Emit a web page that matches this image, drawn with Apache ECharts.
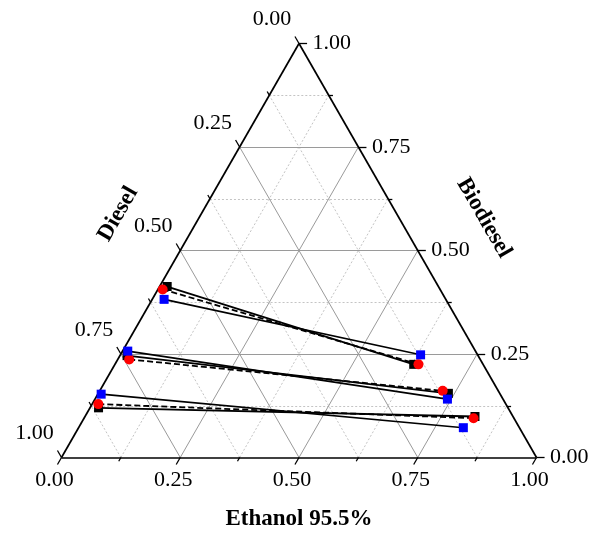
<!DOCTYPE html>
<html>
<head>
<meta charset="utf-8">
<script src="https://cdn.jsdelivr.net/npm/echarts@6/dist/echarts.min.js"></script>
<style>html,body{margin:0;padding:0;background:#fff}#c{width:598px;height:533px}</style>
</head>
<body>
<div id="c"></div>
<script>
// ---- Data (ternary fractions: Ethanol, Biodiesel; Diesel = 1 - E - B) ----
const tieLabels = ['Tie 1 feed-rich', 'Tie 1 ethanol-rich', 'Tie 2 feed-rich', 'Tie 2 ethanol-rich', 'Tie 3 feed-rich', 'Tie 3 ethanol-rich'];
const expEthanol  = [0.016, 0.629, 0.015, 0.737, 0.018, 0.821];
const expBiodiesel = [0.413, 0.225, 0.246, 0.155, 0.120, 0.099];
const redEthanol  = [0.010, 0.639, 0.024, 0.722, 0.013, 0.820];
const redBiodiesel = [0.406, 0.225, 0.237, 0.161, 0.129, 0.095];
const blueEthanol  = [0.025, 0.632, 0.011, 0.742, 0.007, 0.810];
const blueBiodiesel = [0.382, 0.248, 0.257, 0.141, 0.153, 0.072];
const tickValues = [0, 0.25, 0.5, 0.75, 1];
const tickLabels = ['0.00', '0.25', '0.50', '0.75', '1.00'];
const minorValues = [0.125, 0.375, 0.625, 0.875];
const axisTitles = { bottom: 'Ethanol 95.5%', left: 'Diesel', right: 'Biodiesel' };

// ---- ternary -> cartesian ----
function P(E, B) { return [E + B / 2, B]; }
const FONT = '"Liberation Serif","Times New Roman",serif';
const TL = 0.017, TS = 0.009;

function gridFamily(v) {
  return [
    { coords: [P(0, v), P(1 - v, v)] },          // constant Biodiesel
    { coords: [P(v, 0), P(v, 1 - v)] },          // constant Ethanol
    { coords: [P(1 - v, 0), P(0, 1 - v)] }       // constant Diesel
  ];
}
const majorGrid = [], minorGrid = [];
[0.25, 0.5, 0.75].forEach(v => majorGrid.push(...gridFamily(v)));
minorValues.forEach(v => minorGrid.push(...gridFamily(v)));

const ticks = [];
function addTicks(v, t) {
  ticks.push({ coords: [P(v, 0), P(v, -t)] });                 // Ethanol (bottom), down-left
  ticks.push({ coords: [P(1 - v, v), P(1 - v + t, v)] });      // Biodiesel (right), horizontal
  ticks.push({ coords: [P(0, 1 - v), P(-t, 1 - v + t)] });     // Diesel (left), up-left
}
tickValues.forEach(v => addTicks(v, TL));
minorValues.forEach(v => addTicks(v, TS));

const frame = [
  { coords: [P(0, 0), P(1, 0)] },
  { coords: [P(1, 0), P(0, 1)] },
  { coords: [P(0, 1), P(0, 0)] }
];

function tiePairs(Es, Bs) {
  const out = [];
  for (let i = 0; i < Es.length; i += 2) out.push({ coords: [P(Es[i], Bs[i]), P(Es[i + 1], Bs[i + 1])] });
  return out;
}
function pts(Es, Bs) { return Es.map((e, i) => P(e, Bs[i])); }

const labelStyle = { fontFamily: FONT, fontSize: 22, color: '#000', opacity: 1, textBorderWidth: 0 };
function labelSeries(data, lab) {
  return { type: 'scatter', silent: true, clip: false, symbolSize: 1,
    itemStyle: { color: 'rgba(0,0,0,0)' }, data: data, z: 5,
    label: Object.assign({ show: true, formatter: p => p.data.name }, labelStyle, lab) };
}
const bottomLab = tickValues.map((v, i) => ({ value: P(v, 0), name: tickLabels[i] }));
const rightLab = tickValues.map((v, i) => ({ value: P(1 - v, v), name: tickLabels[i] }));
const leftLab = tickValues.map((v, i) => ({ value: P(0, 1 - v), name: tickLabels[i] }));

const chart = echarts.init(document.getElementById('c'), null, { renderer: 'canvas' });
chart.setOption({
  animation: false,
  backgroundColor: '#fff',
  grid: { left: 61.5, right: 61.5, top: 43.5, bottom: 75.5 },
  xAxis: { type: 'value', min: 0, max: 1, show: false },
  yAxis: { type: 'value', min: 0, max: 1, show: false },
  series: [
    { type: 'lines', coordinateSystem: 'cartesian2d', clip: false, silent: true, data: minorGrid,
      lineStyle: { color: '#c4c4c4', width: 1, type: [2, 2], opacity: 1 } },
    { type: 'lines', coordinateSystem: 'cartesian2d', clip: false, silent: true, data: majorGrid,
      lineStyle: { color: '#9a9a9a', width: 1, type: 'solid', opacity: 1 } },
    { type: 'lines', coordinateSystem: 'cartesian2d', clip: false, silent: true, data: frame,
      lineStyle: { color: '#000', width: 1.7, opacity: 1 } },
    { type: 'lines', coordinateSystem: 'cartesian2d', clip: false, silent: true, data: ticks,
      lineStyle: { color: '#000', width: 1.3, opacity: 1 } },
    { type: 'lines', coordinateSystem: 'cartesian2d', clip: false, silent: true, data: tiePairs(expEthanol, expBiodiesel),
      lineStyle: { color: '#000', width: 1.8, opacity: 1 }, z: 3 },
    { type: 'lines', coordinateSystem: 'cartesian2d', clip: false, silent: true, data: tiePairs(redEthanol, redBiodiesel),
      lineStyle: { color: '#000', width: 1.8, type: [6, 3], opacity: 1 }, z: 3 },
    { type: 'lines', coordinateSystem: 'cartesian2d', clip: false, silent: true, data: tiePairs(blueEthanol, blueBiodiesel),
      lineStyle: { color: '#000', width: 1.6, opacity: 1 }, z: 3 },
    { type: 'scatter', name: 'Experimental', clip: false, symbol: 'rect', symbolSize: 9, z: 4,
      itemStyle: { color: '#000', opacity: 1 }, data: pts(expEthanol, expBiodiesel) },
    { type: 'scatter', name: 'Model A', clip: false, symbol: 'circle', symbolSize: 10, z: 4,
      itemStyle: { color: '#ff0000', opacity: 1 }, data: pts(redEthanol, redBiodiesel) },
    { type: 'scatter', name: 'Model B', clip: false, symbol: 'rect', symbolSize: 9, z: 4,
      itemStyle: { color: '#0000ff', opacity: 1 }, data: pts(blueEthanol, blueBiodiesel) },
    labelSeries(bottomLab, { position: 'inside', offset: [-7, 23] }),
    labelSeries(rightLab, { position: 'right', distance: 13 }),
    labelSeries(leftLab, { position: 'inside', offset: [-27, -24] })
  ],
  graphic: [
    { type: 'text', x: 299, y: 519, style: { text: axisTitles.bottom, font: 'bold 23px ' + FONT,
      fill: '#000', align: 'center', verticalAlign: 'middle', textAlign: 'center', textVerticalAlign: 'middle' } },
    { type: 'text', x: 118, y: 214, rotation: Math.PI / 3, style: { text: axisTitles.left, font: 'bold 23px ' + FONT,
      fill: '#000', align: 'center', verticalAlign: 'middle', textAlign: 'center', textVerticalAlign: 'middle' } },
    { type: 'text', x: 484, y: 218, rotation: -Math.PI / 3, style: { text: axisTitles.right, font: 'bold 23px ' + FONT,
      fill: '#000', align: 'center', verticalAlign: 'middle', textAlign: 'center', textVerticalAlign: 'middle' } }
  ]
});
</script>
</body>
</html>
